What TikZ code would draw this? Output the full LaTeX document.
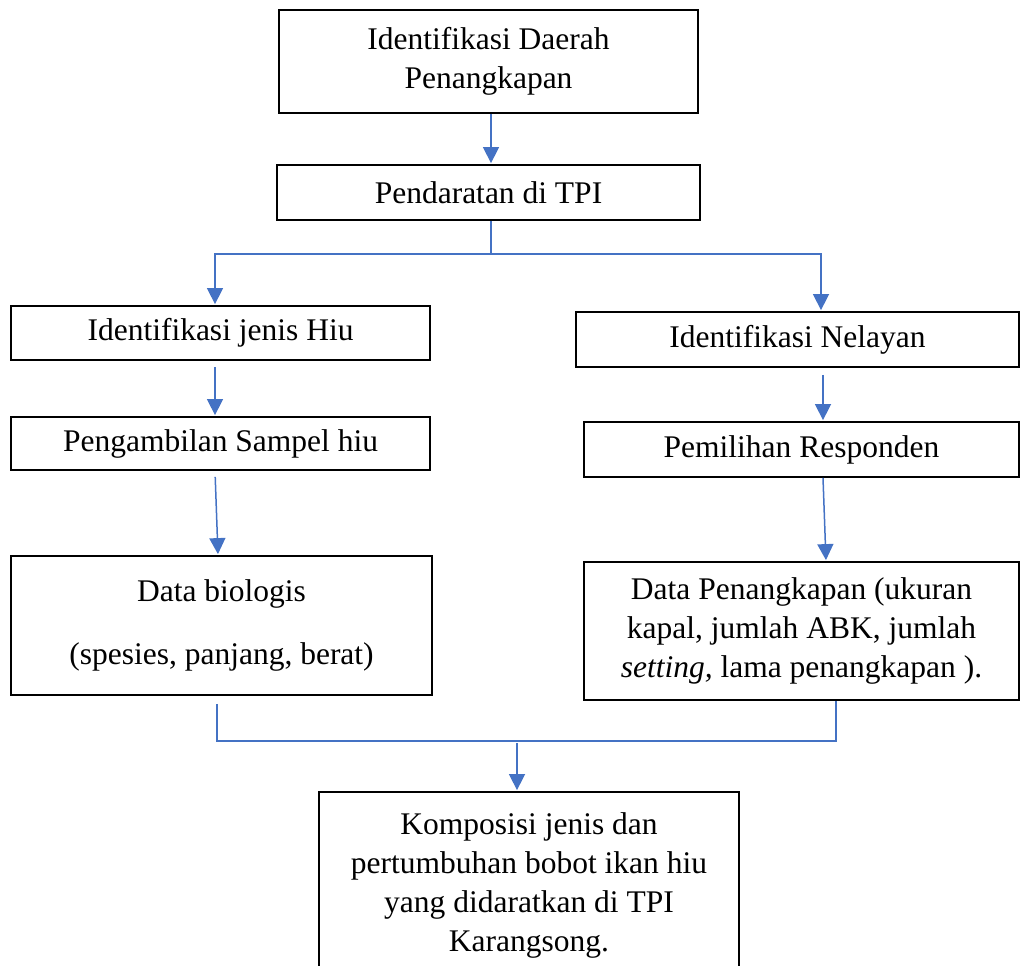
\documentclass[tikz,border=0pt]{standalone}
\usepackage{fontspec}
\setmainfont{Liberation Serif}
\usetikzlibrary{arrows.meta}

\begin{document}
\begin{tikzpicture}[x=1pt, y=-1pt,
    box/.style={draw=black, line width=1.8pt, align=center, inner sep=0pt,
                font=\fontsize{31.5}{39}\selectfont},
    link/.style={draw={rgb,255:red,68;green,114;blue,196}, line width=1.5pt},
    arr/.style={link, -{Triangle[width=16pt,length=16pt]}, shorten >=1pt}]

    \useasboundingbox (0,0) rectangle (1020,966);

    \node [box, minimum width=419pt, minimum height=103pt] (area) at (488.5, 61.5) {Identifikasi Daerah\\Penangkapan};
    \node [box, minimum width=423pt, minimum height=55pt] (land) at (488.5, 192.5) {Pendaratan di TPI};
    \node [box, minimum width=419pt, minimum height=54pt] (species) at (220.5, 333) {Identifikasi jenis Hiu};
    \node [box, minimum width=443pt, minimum height=55pt] (fisher) at (797.5, 339.5) {Identifikasi Nelayan};
    \node [box, minimum width=419pt, minimum height=53pt] (sample) at (220.5, 443.5) {Pengambilan Sampel hiu};
    \node [box, minimum width=435pt, minimum height=55pt] (resp) at (801.5, 449.5) {Pemilihan Responden};
    \node [box, minimum width=421pt, minimum height=139pt] (bio) at (221.5, 625.5) {Data biologis\\[24pt](spesies, panjang, berat)};
    \node [box, minimum width=435pt, minimum height=138pt] (catch) at (801.5, 631) {Data Penangkapan (ukuran\\kapal, jumlah ABK, jumlah\\\textit{setting,} lama penangkapan ).};
    \node [box, minimum width=420pt, minimum height=187pt] (result) at (529, 885.5) {Komposisi jenis dan\\pertumbuhan bobot ikan hiu\\yang didaratkan di TPI\\Karangsong.};

    \coordinate (split) at (491, 254);
    \coordinate (splitL) at (215, 254);
    \coordinate (splitR) at (821, 254);
    \coordinate (joinL) at (217, 741);
    \coordinate (joinR) at (836, 741);
    \coordinate (join) at (517, 741);

    \draw [arr] ([xshift=2.5pt]area.south) -- ([xshift=2.5pt]land.north);
    \draw [link] ([xshift=2.5pt]land.south) -- (split);
    \draw [arr] (split) -- (splitL) -- (splitL |- species.north);
    \draw [arr] (split) -- (splitR) -- (splitR |- fisher.north);
    \draw [arr, shorten <=6pt] ([xshift=-5.5pt]species.south) -- ([xshift=-5.5pt]sample.north);
    \draw [arr, shorten <=7pt] ([xshift=25.5pt]fisher.south) -- ([xshift=21.5pt]resp.north);
    \draw [arr, shorten <=6pt] ([xshift=-5.5pt]sample.south) -- ([xshift=-3.5pt]bio.north);
    \draw [arr] ([xshift=21.5pt]resp.south) -- ([xshift=24.5pt]catch.north);
    \draw [link, shorten <=8pt] (joinL |- bio.south) -- (joinL) -- (joinR) -- (joinR |- catch.south);
    \draw [arr, shorten <=2pt] (join) -- (join |- result.north);
\end{tikzpicture}
\end{document}
